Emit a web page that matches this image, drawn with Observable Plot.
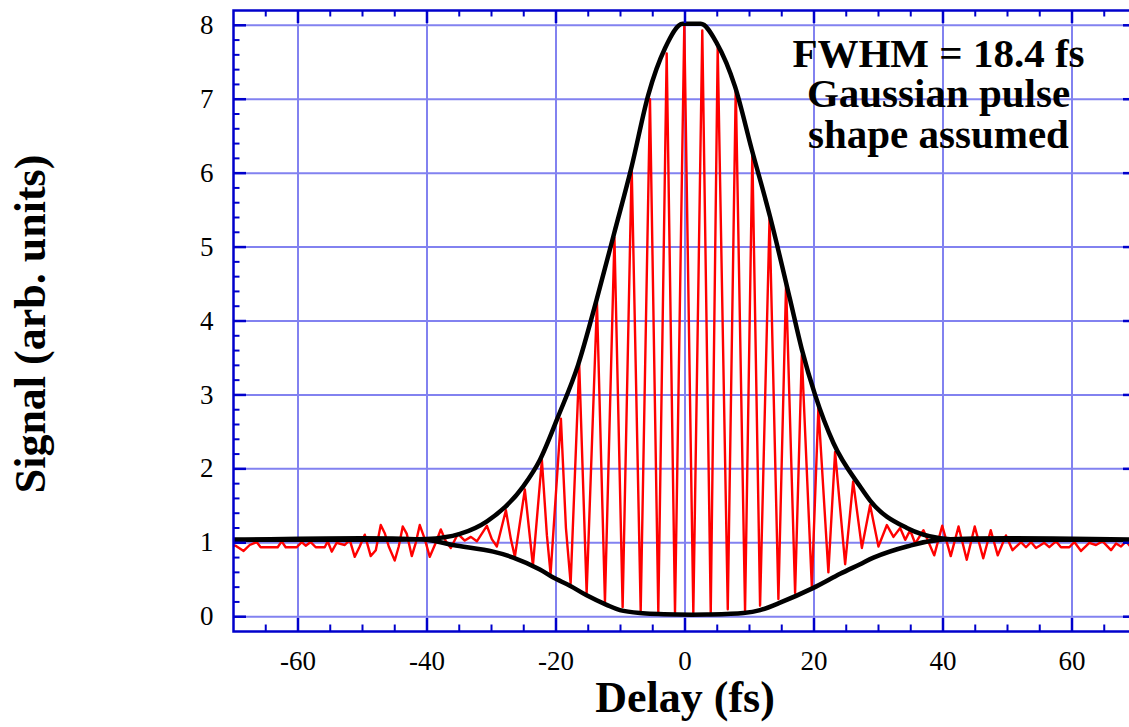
<!DOCTYPE html>
<html>
<head>
<meta charset="utf-8">
<script src="https://cdn.jsdelivr.net/npm/d3@7"></script>
<script src="https://cdn.jsdelivr.net/npm/@observablehq/plot@0.6"></script>
<style>
html, body { margin: 0; padding: 0; background: #fff; overflow: hidden; }
</style>
</head>
<body>
<div id="chart"></div>
<script>
// Measured interferometric autocorrelation trace (red)
const redDelay = [-70.60,-69.67,-68.43,-67.49,-66.41,-65.79,-63.15,-62.53,-61.91,-60.20,
  -59.43,-58.81,-58.03,-57.25,-55.86,-55.39,-54.77,-54.00,-52.75,-51.98,
  -51.20,-50.43,-49.65,-48.72,-47.94,-47.17,-46.55,-45.93,-45.00,-44.38,
  -43.76,-43.13,-42.36,-41.74,-41.12,-40.34,-39.57,-38.64,-37.86,-37.08,
  -36.31,-35.22,-34.14,-33.20,-32.27,-30.72,-29.95,-29.17,-27.77,-27.00,
  -26.38,-24.83,-24.20,-23.58,-22.19,-21.41,-20.84,-19.24,-18.46,-17.73,
  -16.40,-15.25,-13.65,-12.41,-10.94,-9.67,-8.27,-6.87,-5.43,-4.14,
  -2.84,-1.55,-0.11,1.29,2.68,3.99,5.07,6.63,7.87,9.31,
  10.44,11.64,13.11,14.48,15.67,17.07,18.11,19.66,20.68,22.23,
  23.27,24.83,26.07,27.42,28.70,29.99,31.30,32.32,33.36,34.14,
  34.91,35.69,36.97,38.64,39.88,41.20,42.41,43.68,44.92,46.24,
  47.40,48.49,49.76,50.78,52.09,52.86,53.64,54.41,55.70,56.48,
  57.52,58.29,59.58,60.36,61.40,62.68,63.72,64.75,66.05,66.83,
  67.60,68.38,69.05,70.00];
const redSignal = [0.97,0.96,0.89,0.97,1.01,0.94,0.94,1.02,0.94,0.94,
  1.01,0.96,1.01,0.94,0.94,1.02,0.88,1.00,0.97,1.04,
  0.81,0.95,1.11,0.82,0.90,1.24,1.13,0.95,0.76,0.95,
  1.22,1.12,0.82,1.00,1.24,1.05,0.81,1.00,1.18,1.02,
  0.93,1.12,1.03,1.08,1.02,1.23,1.05,0.95,1.44,1.05,
  0.81,1.72,1.20,0.69,2.12,1.10,0.58,2.68,1.20,0.45,
  3.41,0.32,4.25,0.20,5.13,0.13,6.10,0.07,7.00,0.06,
  7.62,0.05,8.00,0.05,7.93,0.05,7.70,0.10,7.17,0.08,
  6.27,0.15,5.40,0.24,4.50,0.32,3.54,0.41,2.82,0.60,
  2.23,0.71,1.83,0.93,1.51,0.95,1.24,1.08,1.20,1.04,
  1.17,0.99,1.17,0.83,1.23,0.82,1.22,0.77,1.22,0.79,
  1.17,0.83,1.10,0.90,1.01,0.94,1.01,0.93,1.00,0.94,
  1.02,0.94,0.94,1.01,0.89,1.00,0.97,1.02,0.90,0.99,
  0.95,1.02,0.95,0.96];

// Gaussian fit envelopes (black)
const upperDelay = [-70,-45,-40.1,-34.9,-30.7,-25.1,-22.5,-19.66,-16.56,-13.70,-10.94,-8.27,-5.69,-3.10,-0.36,2.44,4.92,7.76,10.35,13.19,16.29,18.1,20.17,23.01,27.15,28.70,34.40,39.57,42.7,70];
const upperSignal = [1.04,1.04,1.05,1.12,1.29,1.76,2.12,2.71,3.41,4.29,5.2,6.09,7.06,7.69,8.02,8.02,7.76,7.17,6.32,5.41,4.29,3.62,3.0,2.35,1.76,1.57,1.20,1.06,1.04,1.04];
const lowerDelay = [-70,-40.1,-35.95,-29.74,-26.64,-22.50,-20.43,-17.84,-15.25,-12.15,-10.09,-6.98,-1.29,3.37,9.05,11.64,14.74,19.91,24.05,27.15,29.22,34.40,39.57,70];
const lowerSignal = [1.04,1.04,0.97,0.88,0.80,0.64,0.53,0.42,0.29,0.16,0.09,0.05,0.03,0.03,0.05,0.09,0.19,0.39,0.58,0.71,0.80,0.95,1.04,1.04];

// Ticks
const xTicks = [-60,-40,-20,0,20,40,60];
const yTicks = [0,1,2,3,4,5,6,7,8];
const xMinorTicks = [-65,-55,-50,-45,-35,-30,-25,-15,-10,-5,5,10,15,25,30,35,45,50,55,65];
const yMinorTicks = d3.range(1, 41).map(i => i / 5).filter(v => Math.abs(v - Math.round(v)) > 1e-6);

const annotationLines = ["FWHM = 18.4 fs", "Gaussian pulse", "shape assumed"];
const annotationDelay = 39.3;

const red = redDelay.map((d, i) => ({delay: d, signal: redSignal[i]}));
const upper = upperDelay.map((d, i) => ({delay: d, signal: upperSignal[i]}));
const lower = lowerDelay.map((d, i) => ({delay: d, signal: lowerSignal[i]}));

const W = 1136, H = 727, mL = 233, mR = 0, mT = 10, mB = 96;
const fw = W - mL - mR, fh = H - mT - mB;
const axisColor = "#0000cc", gridColor = "#8282f0";
const majorLen = 13, minorLen = 6.5;
const annLineStep = 40.6, annFirstOffset = 27;

const chart = Plot.plot({
  width: W, height: H,
  marginLeft: mL, marginRight: mR, marginTop: mT, marginBottom: mB,
  style: "font-family: 'Liberation Serif', 'Times New Roman', serif; font-size: 27px; background: #fff; color: #000; max-width: none; overflow: visible;",
  x: {domain: [-70, 70], ticks: xTicks, tickSize: 0, tickPadding: 19, tickFormat: d => String(d), label: null},
  y: {domain: [-0.2, 8.2], ticks: yTicks, tickSize: 0, tickPadding: 20, tickFormat: d => String(d), label: null},
  marks: [
    Plot.ruleX(xTicks, {x: d => d, stroke: gridColor, strokeWidth: 2}),
    Plot.ruleY(yTicks, {y: d => d, stroke: gridColor, strokeWidth: 2}),
    Plot.line(red, {x: "delay", y: "signal", stroke: "#ff0000", strokeWidth: 2.4, strokeLinejoin: "round", clip: true}),
    Plot.line(upper, {x: "delay", y: "signal", stroke: "#000", strokeWidth: 4.5, curve: "monotone-x", clip: true}),
    Plot.line(lower, {x: "delay", y: "signal", stroke: "#000", strokeWidth: 4.5, curve: "catmull-rom", clip: true}),
    Plot.frame({stroke: axisColor, strokeWidth: 2.5}),
    // inward ticks: bottom & top
    Plot.tickX(xTicks, {x: d => d, stroke: axisColor, strokeWidth: 2.5, insetTop: fh - majorLen}),
    Plot.tickX(xTicks, {x: d => d, stroke: axisColor, strokeWidth: 2.5, insetBottom: fh - majorLen}),
    Plot.tickX(xMinorTicks, {x: d => d, stroke: axisColor, strokeWidth: 2, insetTop: fh - minorLen}),
    Plot.tickX(xMinorTicks, {x: d => d, stroke: axisColor, strokeWidth: 2, insetBottom: fh - minorLen}),
    // inward ticks: left & right
    Plot.tickY(yTicks, {y: d => d, stroke: axisColor, strokeWidth: 2.5, insetRight: fw - majorLen}),
    Plot.tickY(yTicks, {y: d => d, stroke: axisColor, strokeWidth: 2.5, insetLeft: fw - majorLen}),
    Plot.tickY(yMinorTicks, {y: d => d, stroke: axisColor, strokeWidth: 2, insetRight: fw - minorLen}),
    Plot.tickY(yMinorTicks, {y: d => d, stroke: axisColor, strokeWidth: 2, insetLeft: fw - minorLen}),
    // titles
    Plot.text(["Delay (fs)"], {text: d => d, frameAnchor: "bottom", lineAnchor: "bottom", dy: 80, fontSize: 44, fontWeight: "bold", fill: "#000"}),
    Plot.text(["Signal (arb. units)"], {text: d => d, frameAnchor: "left", textAnchor: "middle", rotate: -90, lineAnchor: "bottom", dx: -189, dy: 3, fontSize: 44, fontWeight: "bold", fill: "#000"}),
    // annotation (one text mark per line)
    ...annotationLines.map((t, i) => Plot.text([{x: annotationDelay, t}], {
      x: "x", text: "t", frameAnchor: "top", lineAnchor: "top",
      dy: annFirstOffset + i * annLineStep,
      fontSize: 41, fontWeight: "bold", fill: "#000", textAnchor: "middle"
    }))
  ]
});
document.getElementById("chart").appendChild(chart);
</script>
</body>
</html>
